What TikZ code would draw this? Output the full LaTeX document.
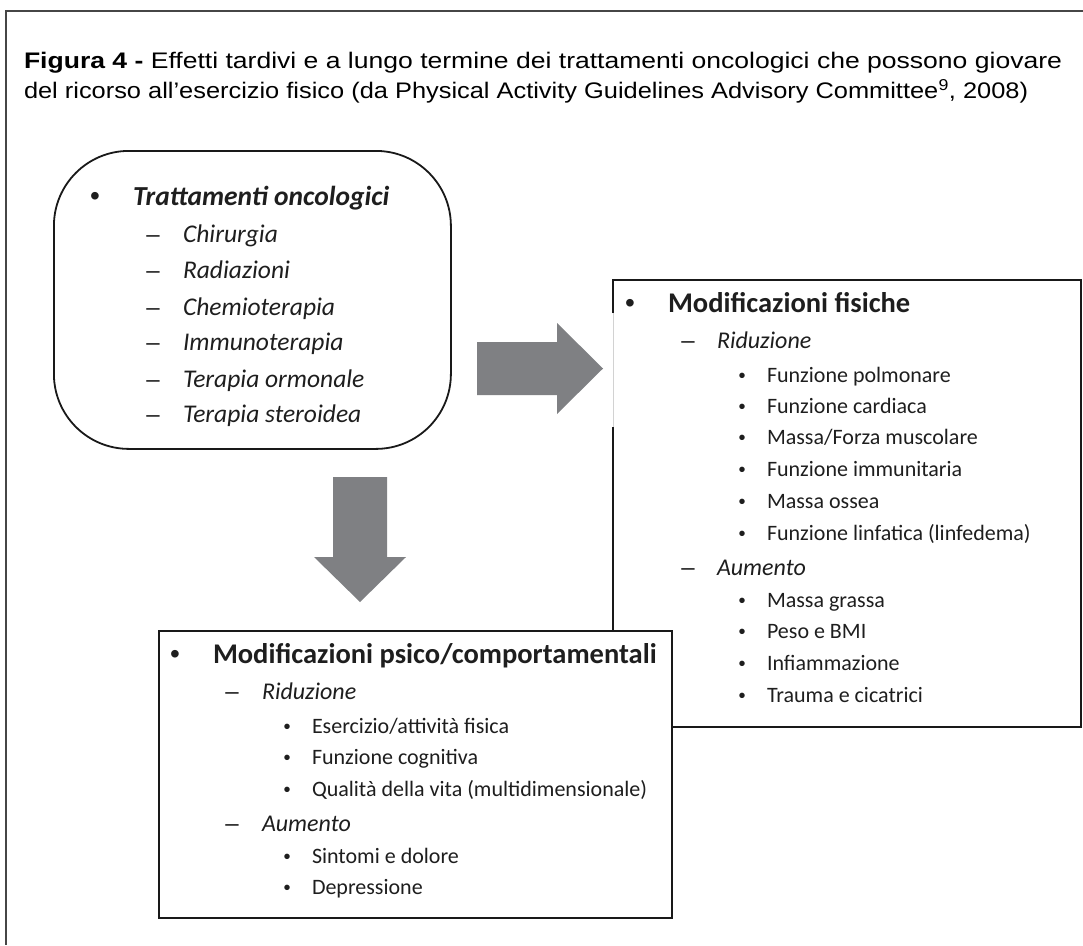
\documentclass[tikz,border=0pt]{standalone}
\usepackage{fontspec}
\setmainfont{Carlito}
\newfontfamily\arialf{Liberation Sans}
\usepackage{graphicx}
\definecolor{arrowgray}{RGB}{127,128,131}
\definecolor{framegray}{RGB}{70,70,70}
\definecolor{boxline}{RGB}{25,25,25}
\definecolor{txtgray}{RGB}{30,30,30}
\tikzset{
  txt/.style={anchor=base west, inner sep=0pt, outer sep=0pt, text=txtgray},
  headA/.style={txt, font=\fontsize{28.5}{34}\selectfont\bfseries},
  headAi/.style={txt, font=\fontsize{27.5}{33}\selectfont\bfseries\itshape},
  itemB/.style={txt, font=\fontsize{24}{29}\selectfont\itshape},
  itemBl/.style={txt, font=\fontsize{25.5}{30}\selectfont\itshape},
  itemC/.style={txt, font=\fontsize{22}{26}\selectfont},
  bulA/.style={anchor=base, inner sep=0pt, text=txtgray, font=\arialf\fontsize{28}{32}\selectfont},
  bulC/.style={anchor=base, inner sep=0pt, text=txtgray, font=\arialf\fontsize{20}{24}\selectfont},
  dashB/.style={anchor=base, inner sep=0pt, text=txtgray, font=\arialf\fontsize{24}{28}\selectfont},
  titletxt/.style={anchor=base west, inner sep=0pt, outer sep=0pt, text=black, font=\arialf\fontsize{22.5}{27}\selectfont},
  boxborder/.style={draw=boxline, line width=1.8pt},
  bigarrow/.style={fill=arrowgray}
}
\begin{document}
\begin{tikzpicture}[x=1pt,y=-1pt]
\useasboundingbox (0,0) rectangle (1083,945);
% outer frame (top and left only)
\draw[framegray, line width=1.5pt] (1083,11) -- (6,11) -- (6,945);

% title
\node[titletxt] (title1) at (24,68) {\resizebox{1038pt}{\height}{\textbf{Figura 4 -} Effetti tardivi e a lungo termine dei trattamenti oncologici che possono giovare}};
\node[titletxt] (title2) at (24,98) {\resizebox{1004pt}{\height}{del ricorso all’esercizio fisico (da Physical Activity Guidelines Advisory Committee\textsuperscript{9}, 2008)}};

% left rounded box
\node[boxborder, rounded corners=75pt, anchor=north west, minimum width=397pt, minimum height=298pt, inner sep=0pt] (trt) at (53,150) {};

% right box (left edge interrupted by arrow)
\node[anchor=north west, minimum width=468pt, minimum height=447pt, inner sep=0pt, outer sep=0pt] (fis) at (613,280) {};
\draw[boxborder] (613,313) -- (fis.north west) -- (fis.north east) -- (fis.south east) -- (fis.south west) -- (613,427);
\draw[gray!35, line width=0.8pt] (613,313) -- (613,427);

% bottom box (in front)
\node[boxborder, fill=white, anchor=north west, minimum width=513pt, minimum height=287pt, inner sep=0pt] (psi) at (158,630) {};

% block arrows
\fill[bigarrow] (477,342) -- (557,342) -- (557,323) -- (603,368.5) -- (557,414) -- (557,395) -- (477,395) -- cycle;
\fill[bigarrow] (333,477) -- (387,477) -- (387,557) -- (406,557) -- (360,602) -- (314,557) -- (333,557) -- cycle;

% left box text
\node[bulA] (tb0) at (95,205) {•};
\node[headAi] (th) at (133,205) {Trattamenti oncologici};
\node[dashB] (td1) at (153,242) {–};
\node[itemBl] (t1) at (183,242) {Chirurgia};
\node[dashB] (td2) at (153,278) {–};
\node[itemBl] (t2) at (183,278) {Radiazioni};
\node[dashB] (td3) at (153,315) {–};
\node[itemBl] (t3) at (183,315) {Chemioterapia};
\node[dashB] (td4) at (153,350) {–};
\node[itemBl] (t4) at (183,350) {Immunoterapia};
\node[dashB] (td5) at (153,387) {–};
\node[itemBl] (t5) at (183,387) {Terapia ormonale};
\node[dashB] (td6) at (153,422) {–};
\node[itemBl] (t6) at (183,422) {Terapia steroidea};

% right box text
\node[bulA] (fb0) at (630,312) {•};
\node[headA] (fh) at (668,312) {Modificazioni fisiche};
\node[dashB] (fd1) at (688,348) {–};
\node[itemB] (fr) at (717,348) {Riduzione};
\node[bulC] (fb1) at (742,382) {•};
\node[itemC] (f1) at (767,382) {Funzione polmonare};
\node[bulC] (fb2) at (742,413) {•};
\node[itemC] (f2) at (767,413) {Funzione cardiaca};
\node[bulC] (fb3) at (742,444.5) {•};
\node[itemC] (f3) at (767,444.5) {Massa/Forza muscolare};
\node[bulC] (fb4) at (742,476.5) {•};
\node[itemC] (f4) at (767,476.5) {Funzione immunitaria};
\node[bulC] (fb5) at (742,508) {•};
\node[itemC] (f5) at (767,508) {Massa ossea};
\node[bulC] (fb6) at (742,540) {•};
\node[itemC] (f6) at (767,540) {Funzione linfatica (linfedema)};
\node[dashB] (fd2) at (688,575) {–};
\node[itemB] (fa) at (717,575) {Aumento};
\node[bulC] (fb7) at (742,607) {•};
\node[itemC] (f7) at (767,607) {Massa grassa};
\node[bulC] (fb8) at (742,638.5) {•};
\node[itemC] (f8) at (767,638.5) {Peso e BMI};
\node[bulC] (fb9) at (742,670) {•};
\node[itemC] (f9) at (767,670) {Infiammazione};
\node[bulC] (fb10) at (742,702) {•};
\node[itemC] (f10) at (767,702) {Trauma e cicatrici};

% bottom box text
\node[bulA] (pb0) at (175,663) {•};
\node[headA] (ph) at (213,663) {Modificazioni psico/comportamentali};
\node[dashB] (pd1) at (232,699) {–};
\node[itemB] (pr) at (262,699) {Riduzione};
\node[bulC] (pb1) at (287,733) {•};
\node[itemC] (p1) at (312,733) {Esercizio/attività fisica};
\node[bulC] (pb2) at (287,764.5) {•};
\node[itemC] (p2) at (312,764.5) {Funzione cognitiva};
\node[bulC] (pb3) at (287,796) {•};
\node[itemC] (p3) at (312,796) {Qualità della vita (multidimensionale)};
\node[dashB] (pd2) at (232,831) {–};
\node[itemB] (pa) at (262,831) {Aumento};
\node[bulC] (pb4) at (287,863) {•};
\node[itemC] (p4) at (312,863) {Sintomi e dolore};
\node[bulC] (pb5) at (287,894.5) {•};
\node[itemC] (p5) at (312,894.5) {Depressione};
\end{tikzpicture}
\end{document}
